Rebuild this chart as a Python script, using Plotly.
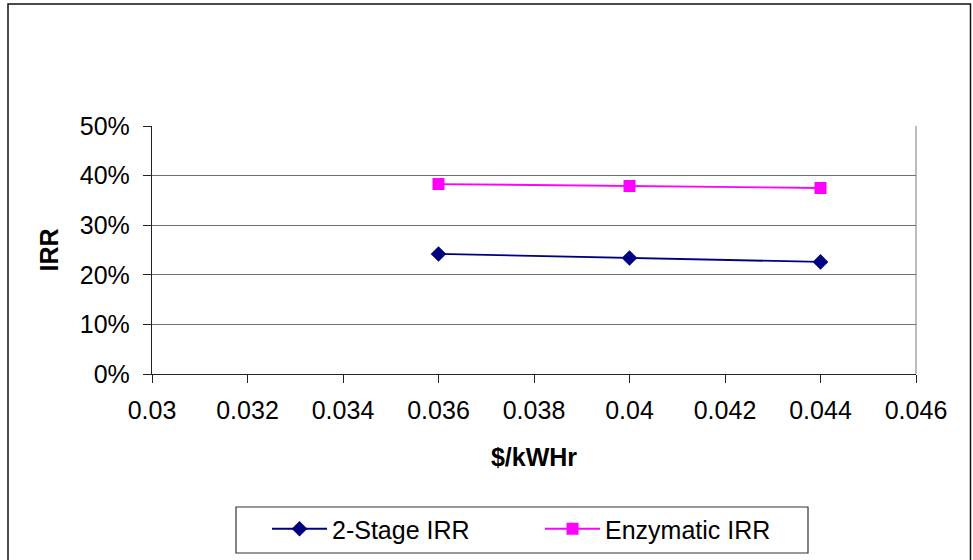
import plotly.graph_objects as go

x_vals = [0.036, 0.04, 0.044]
two_stage_irr = [0.242, 0.234, 0.226]
enzymatic_irr = [0.383, 0.379, 0.375]
series_names = ["2-Stage IRR", "Enzymatic IRR"]

FONT = "Liberation Sans, Arial, sans-serif"
FS = 25

fig = go.Figure()
fig.add_trace(go.Scatter(
    x=x_vals, y=two_stage_irr, name=series_names[0], mode="lines+markers",
    line=dict(color="#000080", width=1.8),
    marker=dict(symbol="diamond", size=12, color="#000080"),
))
fig.add_trace(go.Scatter(
    x=x_vals, y=enzymatic_irr, name=series_names[1], mode="lines+markers",
    line=dict(color="#FF00FF", width=1.8),
    marker=dict(symbol="square", size=12, color="#FF00FF"),
))

L, R, T, B = 152, 57, 126, 186
W, H = 973, 560
pw, ph = W - L - R, H - T - B

def px_x(p):
    return (p - L) / pw

def px_y(p):
    return (H - B - p) / ph

fig.update_layout(
    width=W, height=H,
    margin=dict(l=L, r=R, t=T, b=B, autoexpand=False),
    paper_bgcolor="white", plot_bgcolor="white",
    font=dict(family=FONT, size=FS, color="black"),
    showlegend=True,
    legend=dict(
        orientation="h", x=px_x(267), y=px_y(529), xanchor="left", yanchor="middle",
        borderwidth=0, bgcolor="rgba(0,0,0,0)", entrywidth=203,
        font=dict(family=FONT, size=FS, color="black"),
        itemwidth=55,
    ),
    xaxis=dict(
        range=[0.03, 0.046], dtick=0.002, tick0=0.03,
        showgrid=False, zeroline=False,
        showline=True, linecolor="#222222", linewidth=1.3,
        ticks="outside", ticklen=8, tickcolor="#222222", ticklabelstandoff=6,
        tickfont=dict(family=FONT, size=FS),
        title=dict(text="<b>$/kWHr</b>", font=dict(family=FONT, size=FS), standoff=25),
    ),
    yaxis=dict(
        range=[0, 0.5], dtick=0.1, tickformat=".0%",
        showgrid=True, gridcolor="#707070", gridwidth=1.3, zeroline=False,
        showline=True, linecolor="#222222", linewidth=1.3,
        ticks="outside", ticklen=8, tickcolor="#222222", ticklabelstandoff=8,
        tickfont=dict(family=FONT, size=FS),
        title=dict(text="<b>IRR</b>", font=dict(family=FONT, size=FS), standoff=14),
    ),
    shapes=[
        dict(type="rect", xref="paper", yref="paper", x0=px_x(8), x1=px_x(970.5),
             y0=px_y(565), y1=px_y(4), line=dict(color="#111111", width=1.5), layer="below"),
        dict(type="rect", xref="paper", yref="paper", x0=px_x(236), x1=px_x(808),
             y0=px_y(553), y1=px_y(507), line=dict(color="#333333", width=1.2), layer="below"),
        dict(type="line", xref="paper", yref="paper", x0=1, x1=1, y0=0, y1=1,
             line=dict(color="#999999", width=1.3), layer="below"),
    ],
)

fig.write_html("out.html")
